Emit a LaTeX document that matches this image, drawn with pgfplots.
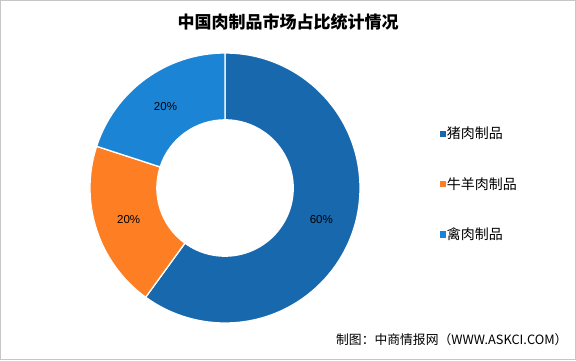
\documentclass[border=0pt]{standalone}
\usepackage{pgfplots}
\usepackage{pgfplotstable}
\pgfplotsset{compat=1.18}
\usepackage{fontspec}
\setmainfont{Liberation Sans}
\newfontfamily\cjk{Noto Sans CJK SC}
\definecolor{c1}{HTML}{1868AE}
\definecolor{c2}{HTML}{FD7E23}
\definecolor{c3}{HTML}{1C84D5}
\pgfplotstableread{
label value color
猪肉制品 60 c1
牛羊肉制品 20 c2
禽肉制品 20 c3
}\piedata
\newcommand\labfont{\fontsize{11.5}{12}\selectfont}
\begin{document}
\begin{tikzpicture}[x=1pt,y=1pt]
\useasboundingbox (0,0) rectangle (576,360);
\draw[gray!45, line width=1.2pt] (0.6,0.6) rectangle (575.4,359.4);
\node at (288,338) {\cjk\bfseries\fontsize{17}{18}\selectfont 中国肉制品市场占比统计情况};
\begin{axis}[at={(225pt,172pt)}, anchor=center, scale only axis,
  width=270pt, height=270pt, xmin=-1, xmax=1, ymin=-1, ymax=1,
  hide axis, clip=false,
  legend style={at={(1.285,0.515)}, anchor=west, draw=none, fill=none,
    font=\cjk\fontsize{14}{15}\selectfont, row sep=35pt,
    nodes={inner sep=1pt}},
  legend cell align=left,
  legend image code/.code={\fill (0pt,-2.6pt) rectangle (5.2pt,2.6pt);}]
\addlegendimage{c1, fill=c1}
\addlegendentry{猪肉制品}
\addlegendimage{c2, fill=c2}
\addlegendentry{牛羊肉制品}
\addlegendimage{c3, fill=c3}
\addlegendentry{禽肉制品}
\gdef\angstart{90}
\pgfplotsinvokeforeach{0,1,2}{%
  \pgfplotstablegetelem{#1}{value}\of\piedata
  \pgfmathsetmacro{\val}{\pgfplotsretval}
  \pgfmathtruncatemacro{\vi}{\val}
  \pgfplotstablegetelem{#1}{color}\of\piedata
  \edef\col{\pgfplotsretval}
  \pgfmathsetmacro{\angend}{\angstart-3.6*\val}
  \pgfmathsetmacro{\angmid}{(\angstart+\angend)/2}
  \pgfmathsetmacro{\xa}{cos(\angstart)}
  \pgfmathsetmacro{\ya}{sin(\angstart)}
  \pgfmathsetmacro{\xb}{0.505*cos(\angend)}
  \pgfmathsetmacro{\yb}{0.505*sin(\angend)}
  \pgfmathsetmacro{\xm}{0.75*cos(\angmid)}
  \pgfmathsetmacro{\ym}{0.75*sin(\angmid)}
  \edef\temp{\noexpand\fill[\col, draw=white, line width=1.3pt] (axis cs:\xa,\ya) arc[start angle=\angstart, end angle=\angend, radius=135pt] -- (axis cs:\xb,\yb) arc[start angle=\angend, end angle=\angstart, radius=68.2pt] -- cycle;
  \noexpand\node[font=\noexpand\labfont] at (axis cs:\xm,\ym) {\vi\noexpand\%};}%
  \temp
  \global\let\angstart\angend
}
\end{axis}
\node[anchor=east] at (571,20) {\cjk\fontsize{12.8}{14}\selectfont 制图：中商情报网（WWW.ASKCI.COM）};
\end{tikzpicture}
\end{document}
